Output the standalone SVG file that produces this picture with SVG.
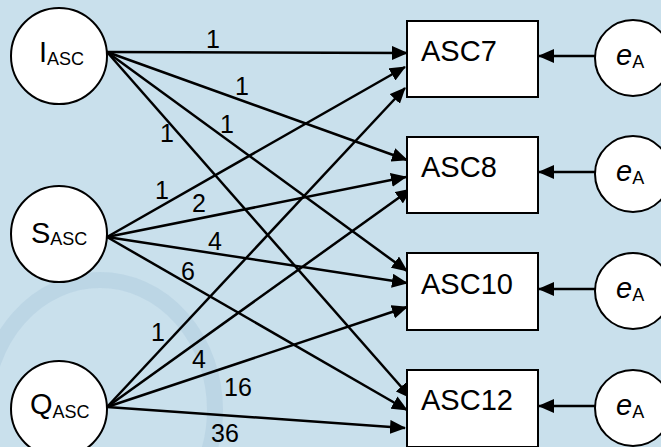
<svg xmlns="http://www.w3.org/2000/svg" width="661" height="447" viewBox="0 0 661 447">
<defs>
<marker id="ah" markerUnits="userSpaceOnUse" markerWidth="16" markerHeight="14" refX="15" refY="7" orient="auto">
<path d="M0,0 L16,7 L0,14 z" fill="#000"/>
</marker>
<style>
.bg{fill:#c9e0ec}
.node{fill:#fff;stroke:#000;stroke-width:2}
.t{font-family:"Liberation Sans",Arial,sans-serif;fill:#000}
.big{font-size:29px}
.sub{font-size:18px}
.lbl{font-size:25px;text-anchor:middle}
.c line{stroke:#000;stroke-width:2.5;marker-end:url(#ah)}
</style>
</defs>
<rect class="bg" x="0" y="0" width="661" height="447"/>
<g id="watermark" fill="none" stroke="#b7d2e3" stroke-width="16" opacity="0.7">
<ellipse cx="100" cy="410" rx="115" ry="130"/>
</g>
<g id="connectors" class="c">
<line x1="107" y1="52" x2="407" y2="53"/>
<line x1="107" y1="52" x2="407" y2="160"/>
<line x1="107" y1="52" x2="407" y2="271"/>
<line x1="107" y1="52" x2="411" y2="398"/>
<line x1="107" y1="237" x2="405" y2="67"/>
<line x1="107" y1="237" x2="406" y2="177"/>
<line x1="107" y1="237" x2="407" y2="283"/>
<line x1="107" y1="237" x2="407" y2="410"/>
<line x1="107" y1="407" x2="405" y2="88"/>
<line x1="107" y1="407" x2="411" y2="189"/>
<line x1="107" y1="407" x2="407" y2="307"/>
<line x1="107" y1="407" x2="405" y2="428"/>
<line x1="595" y1="56" x2="539" y2="56"/>
<line x1="595" y1="172" x2="539" y2="172"/>
<line x1="595" y1="289" x2="539" y2="289"/>
<line x1="595" y1="406" x2="539" y2="406"/>
</g>
<g id="labels" class="t lbl">
<text x="213" y="48">1</text>
<text x="242" y="95">1</text>
<text x="227" y="133">1</text>
<text x="167" y="142">1</text>
<text x="162" y="199">1</text>
<text x="199" y="212">2</text>
<text x="215" y="250">4</text>
<text x="188" y="280">6</text>
<text x="158" y="341">1</text>
<text x="199" y="368">4</text>
<text x="238" y="396">16</text>
<text x="225" y="442">36</text>
</g>
<g id="I_ASC">
<circle class="node" cx="59" cy="56" r="48"/>
<text class="t big" x="39" y="62">I<tspan class="sub" dy="3">ASC</tspan></text>
</g>
<g id="S_ASC">
<circle class="node" cx="59" cy="234" r="48"/>
<text class="t big" x="31" y="243">S<tspan class="sub" dy="2">ASC</tspan></text>
</g>
<g id="Q_ASC">
<circle class="node" cx="59" cy="409" r="48"/>
<text class="t big" x="30" y="414">Q<tspan class="sub" dy="4">ASC</tspan></text>
</g>
<g id="ASC7">
<rect class="node" x="407" y="21" width="131" height="76"/>
<text class="t big" x="421" y="61">ASC7</text>
</g>
<g id="ASC8">
<rect class="node" x="407" y="137" width="131" height="76"/>
<text class="t big" x="421" y="177">ASC8</text>
</g>
<g id="ASC10">
<rect class="node" x="407" y="253" width="131" height="77"/>
<text class="t big" x="421" y="294">ASC10</text>
</g>
<g id="ASC12">
<rect class="node" x="407" y="370" width="131" height="77"/>
<text class="t big" x="421" y="410">ASC12</text>
</g>
<g id="eA1">
<circle class="node" cx="633" cy="58" r="38"/>
<text class="t big" x="616" y="65"><tspan font-style="italic">e</tspan><tspan class="sub" dy="3">A</tspan></text>
</g>
<g id="eA2">
<circle class="node" cx="633" cy="174" r="38"/>
<text class="t big" x="616" y="181"><tspan font-style="italic">e</tspan><tspan class="sub" dy="3">A</tspan></text>
</g>
<g id="eA3">
<circle class="node" cx="633" cy="291" r="38"/>
<text class="t big" x="616" y="298"><tspan font-style="italic">e</tspan><tspan class="sub" dy="3">A</tspan></text>
</g>
<g id="eA4">
<circle class="node" cx="633" cy="408" r="38"/>
<text class="t big" x="616" y="415"><tspan font-style="italic">e</tspan><tspan class="sub" dy="3">A</tspan></text>
</g>
</svg>
